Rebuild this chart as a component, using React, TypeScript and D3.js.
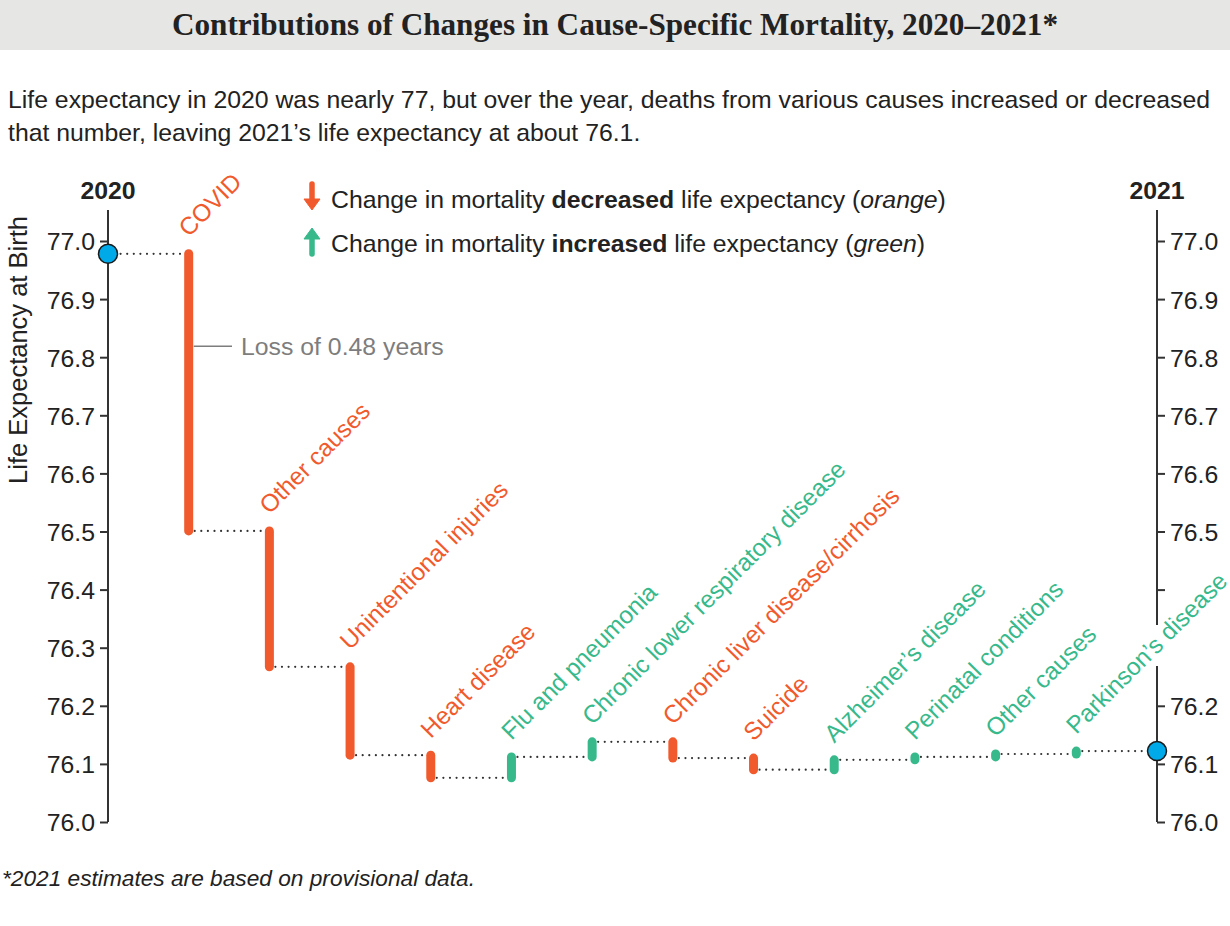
import { useRef, useEffect } from 'react';
import * as d3 from 'd3';

const causes = [
  'COVID', 'Other causes', 'Unintentional injuries', 'Heart disease', 'Flu and pneumonia',
  'Chronic lower respiratory disease', 'Chronic liver disease/cirrhosis', 'Suicide',
  "Alzheimer\u2019s disease", 'Perinatal conditions', 'Other causes', "Parkinson\u2019s disease",
];
// contribution to life expectancy (years), 2020 -> 2021
const changes = [-0.477, -0.234, -0.152, -0.039, 0.036, 0.026, -0.028, -0.02, 0.017, 0.005, 0.005, 0.005];
const start2020 = 76.978;
const yTicks = [76.0, 76.1, 76.2, 76.3, 76.4, 76.5, 76.6, 76.7, 76.8, 76.9, 77.0];

const ORANGE = '#f15a2c';
const GREEN = '#37b98b';
const BLUE = '#00a9e8';
const INK = '#222';
const FONT = '"Liberation Sans", Arial, sans-serif';
const FS = 24.8;

const App = () => {
  const ref = useRef<SVGSVGElement>(null);

  useEffect(() => {
    document.body.style.margin = '0';
    const svg = d3.select(ref.current);
    svg.selectAll('*').remove();
    const W = 1230, H = 926;

    // levels
    const levels = [start2020];
    changes.forEach(c => levels.push(levels[levels.length - 1] + c));
    const end2021 = levels[levels.length - 1];

    const slots = ['2020', ...causes.map((_, i) => 'c' + i), '2021'];
    const x = d3.scalePoint().domain(slots).range([108, 1157]);
    const y = d3.scaleLinear().domain([76, 77]).range([822, 241]);

    // title band
    svg.append('rect').attr('x', 0).attr('y', 0).attr('width', W).attr('height', 50).attr('fill', '#e6e6e5');
    svg.append('text')
      .attr('x', 615).attr('y', 35).attr('text-anchor', 'middle')
      .attr('font-family', '"Liberation Serif", "DejaVu Serif", serif')
      .attr('font-weight', 'bold').attr('font-size', 31).attr('fill', INK)
      .attr('textLength', 886).attr('lengthAdjust', 'spacingAndGlyphs')
      .text('Contributions of Changes in Cause-Specific Mortality, 2020\u20132021*');

    // subtitle
    const sub = svg.append('text').attr('font-family', FONT).attr('font-size', FS).attr('fill', INK);
    sub.append('tspan').attr('x', 8).attr('y', 108)
      .text('Life expectancy in 2020 was nearly 77, but over the year, deaths from various causes increased or decreased');
    sub.append('tspan').attr('x', 8).attr('y', 141)
      .text('that number, leaving 2021\u2019s life expectancy at about 76.1.');

    // y title
    svg.append('text')
      .attr('transform', 'translate(27,350) rotate(-90)')
      .attr('text-anchor', 'middle').attr('font-family', FONT).attr('font-size', 25.5).attr('fill', INK)
      .text('Life Expectancy at Birth');

    // axes
    const left = svg.append('g').attr('transform', `translate(${x('2020')},0)`)
      .call(d3.axisLeft(y).tickValues(yTicks).tickFormat(d3.format('.1f')).tickSize(8).tickPadding(5));
    const right = svg.append('g').attr('transform', `translate(${x('2021')},0)`)
      .call(d3.axisRight(y).tickValues(yTicks).tickFormat(d3.format('.1f')).tickSize(8).tickPadding(5));
    [left, right].forEach(g => {
      g.select('.domain').remove();
      g.selectAll('line').attr('stroke', '#333').attr('stroke-width', 2);
      g.selectAll('text').attr('font-family', FONT).attr('font-size', FS).attr('fill', INK).attr('dy', '0.36em');
    });
    // right axis: label of Parkinson's crosses the axis
    right.selectAll('.tick').filter(d => Math.abs(+d - 76.3) < 1e-6).remove();
    right.selectAll('.tick').filter(d => Math.abs(+d - 76.4) < 1e-6).select('text').remove();

    const axisLine = (xp, y1, y2) => svg.append('line')
      .attr('x1', xp).attr('x2', xp).attr('y1', y1).attr('y2', y2)
      .attr('stroke', '#333').attr('stroke-width', 2);
    axisLine(x('2020'), 210, y(76));
    axisLine(x('2021'), 210, 625);
    axisLine(x('2021'), 666, y(76));

    svg.append('text').attr('x', x('2020')).attr('y', 199).attr('text-anchor', 'middle')
      .attr('font-family', FONT).attr('font-weight', 'bold').attr('font-size', FS).attr('fill', INK).text('2020');
    svg.append('text').attr('x', x('2021')).attr('y', 199).attr('text-anchor', 'middle')
      .attr('font-family', FONT).attr('font-weight', 'bold').attr('font-size', FS).attr('fill', INK).text('2021');

    // dotted connectors
    const dots = svg.append('g');
    for (let i = 0; i <= causes.length; i++) {
      const x1 = i === 0 ? x('2020') : x('c' + (i - 1));
      const x2 = i === causes.length ? x('2021') : x('c' + i);
      dots.append('line')
        .attr('x1', x1 + 6).attr('x2', x2 - 6)
        .attr('y1', y(levels[i])).attr('y2', y(levels[i]))
        .attr('stroke', '#333').attr('stroke-width', 2.2)
        .attr('stroke-linecap', 'round').attr('stroke-dasharray', '0 6.6');
    }

    // bars
    const bars = svg.append('g');
    causes.forEach((c, i) => {
      const col = changes[i] < 0 ? ORANGE : GREEN;
      bars.append('line')
        .attr('x1', x('c' + i)).attr('x2', x('c' + i))
        .attr('y1', y(levels[i])).attr('y2', y(levels[i + 1]))
        .attr('stroke', col).attr('stroke-width', 9).attr('stroke-linecap', 'round');
      const top = Math.min(y(levels[i]), y(levels[i + 1]));
      bars.append('text')
        .attr('transform', `translate(${x('c' + i)},${top - 16}) rotate(-45)`)
        .attr('font-family', FONT).attr('font-size', 24.3).attr('fill', col)
        .text(c);
    });

    // endpoints
    [[x('2020'), start2020], [x('2021'), end2021]].forEach(([px, v]) => {
      svg.append('circle').attr('cx', px).attr('cy', y(v)).attr('r', 9.5)
        .attr('fill', BLUE).attr('stroke', '#1a1a1a').attr('stroke-width', 1.5);
    });

    // annotation
    const covidMid = y(start2020 + changes[0] / 3);
    svg.append('line').attr('x1', x('c0') + 5).attr('x2', 232).attr('y1', covidMid).attr('y2', covidMid)
      .attr('stroke', '#7d7d7d').attr('stroke-width', 1.5);
    svg.append('text').attr('x', 241).attr('y', covidMid + 9)
      .attr('font-family', FONT).attr('font-size', FS).attr('fill', '#7d7d7d')
      .text(`Loss of ${Math.abs(changes[0]).toFixed(2)} years`);

    // legend
    const legend = [
      { col: ORANGE, dir: 1, word: 'decreased', name: 'orange', yy: 208 },
      { col: GREEN, dir: -1, word: 'increased', name: 'green', yy: 252 },
    ];
    legend.forEach(l => {
      const cx = 312, cy = l.yy - 11;
      const tip = cy + l.dir * 13, back = cy - l.dir * 13;
      svg.append('line').attr('x1', cx).attr('x2', cx).attr('y1', back).attr('y2', tip - l.dir * 8)
        .attr('stroke', l.col).attr('stroke-width', 5.5).attr('stroke-linecap', 'round');
      svg.append('path')
        .attr('d', `M${cx - 8},${tip - l.dir * 11} L${cx + 8},${tip - l.dir * 11} L${cx},${tip} Z`)
        .attr('fill', l.col).attr('stroke', l.col).attr('stroke-linejoin', 'round');
      const t = svg.append('text').attr('x', 331).attr('y', l.yy)
        .attr('font-family', FONT).attr('font-size', FS).attr('fill', INK);
      t.append('tspan').text('Change in mortality ');
      t.append('tspan').attr('font-weight', 'bold').text(l.word);
      t.append('tspan').text(' life expectancy (');
      t.append('tspan').attr('font-style', 'italic').text(l.name);
      t.append('tspan').text(')');
    });

    // footnote
    svg.append('text').attr('x', 2).attr('y', 886)
      .attr('font-family', FONT).attr('font-size', 22.7).attr('font-style', 'italic').attr('fill', INK)
      .text('*2021 estimates are based on provisional data.');

    svg.attr('width', W).attr('height', H);
  }, []);

  return <svg ref={ref} width={1230} height={926} style={{ display: 'block', background: '#fff' }}></svg>;
};

export default App;
